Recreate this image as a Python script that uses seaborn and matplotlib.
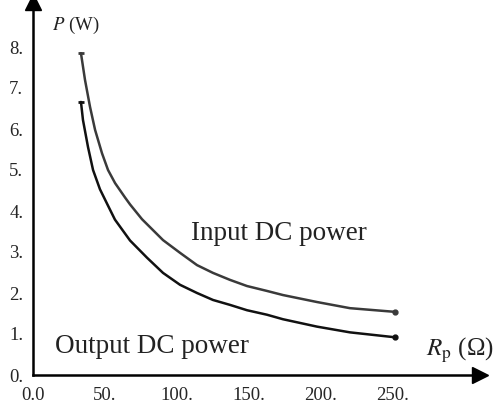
import numpy as np
import pandas as pd
import matplotlib
matplotlib.use("Agg")
import matplotlib.pyplot as plt
import seaborn as sns

# Data
r_input = [33.3, 36.1, 39.6, 43.1, 47.9, 52.1, 57.0, 63.9, 67.4, 75.7, 90.3, 102.1, 113.9,
           125.0, 136.8, 148.6, 162.5, 173.6, 197.2, 220.1, 251.4]
p_input = [7.85, 7.20, 6.54, 5.98, 5.41, 5.00, 4.68, 4.33, 4.16, 3.80, 3.29, 2.98, 2.68,
           2.49, 2.32, 2.17, 2.05, 1.95, 1.78, 1.63, 1.54]
r_output = [33.3, 34.7, 38.2, 41.7, 46.5, 52.1, 56.9, 67.4, 79.2, 90.3, 102.1, 113.9,
            125.0, 136.8, 148.6, 162.5, 173.6, 197.2, 220.1, 251.4]
p_output = [6.66, 6.22, 5.56, 5.00, 4.53, 4.13, 3.79, 3.28, 2.86, 2.49, 2.20, 2.00,
            1.83, 1.71, 1.58, 1.47, 1.36, 1.18, 1.04, 0.92]
x_ticks = [0, 50, 100, 150, 200, 250]
x_tick_labels = ["0.0", "50.", "100.", "150.", "200.", "250."]
y_ticks = [0, 1, 2, 3, 4, 5, 6, 7, 8]
y_tick_labels = ["0.", "1.", "2.", "3.", "4.", "5.", "6.", "7.", "8."]

df = pd.concat([
    pd.DataFrame({"R": r_input, "P": p_input, "series": "Input DC power"}),
    pd.DataFrame({"R": r_output, "P": p_output, "series": "Output DC power"}),
])

sns.set_style("white")
plt.rcParams["font.family"] = ["Liberation Serif", "DejaVu Serif"]
plt.rcParams["mathtext.fontset"] = "stix"

fig = plt.figure(figsize=(5.03, 4.04), dpi=100)
ax = fig.add_axes([33 / 503, 29 / 404, 447 / 503, 373 / 404])

sns.lineplot(data=df, x="R", y="P", hue="series",
             palette={"Input DC power": "#3a3a3a", "Output DC power": "#111111"},
             linewidth=1.8, legend=False, ax=ax, sort=False)
for r, p, c in [(r_input, p_input, "#3a3a3a"), (r_output, p_output, "#111111")]:
    ax.plot([r[-1]], [p[-1]], marker="o", ms=3.5, color=c)
    ax.plot([r[0]], [p[0]], marker="_", ms=5, mew=2, color=c)

ax.set_xlim(0, 447 / 1.44)
ax.set_ylim(0, 373 / 41)
ax.set_xticks(x_ticks)
ax.set_xticklabels(x_tick_labels)
ax.set_yticks(y_ticks)
ax.set_yticklabels(y_tick_labels)
ax.tick_params(axis="both", which="major", length=4, width=1.2, color="#8a9aa8",
               labelsize=13.5, direction="out")
ax.tick_params(axis="x", pad=5)
ax.tick_params(axis="y", pad=3)
ax.set_xlabel("")
ax.set_ylabel("")

for s in ["top", "right"]:
    ax.spines[s].set_visible(False)
for s in ["left", "bottom"]:
    ax.spines[s].set_linewidth(1.8)
    ax.spines[s].set_color("black")

# arrow heads
ax.plot(1, 0, ">", transform=ax.transAxes, clip_on=False, color="black", ms=11)
ax.plot(0, 1, "^", transform=ax.transAxes, clip_on=False, color="black", ms=11)

ax.text(110, 3.29, "Input DC power", fontsize=19.5, color="#222222")
ax.text(15.3, 0.54, "Output DC power", fontsize=19.5, color="#222222")
ax.text(13, 8.42, r"$P$ (W)", fontsize=13.5, color="#222222")
ax.text(273, 0.48, r"$R_\mathrm{p}$ (Ω)", fontsize=18, color="#222222")

fig.savefig("out.png", dpi=100)
